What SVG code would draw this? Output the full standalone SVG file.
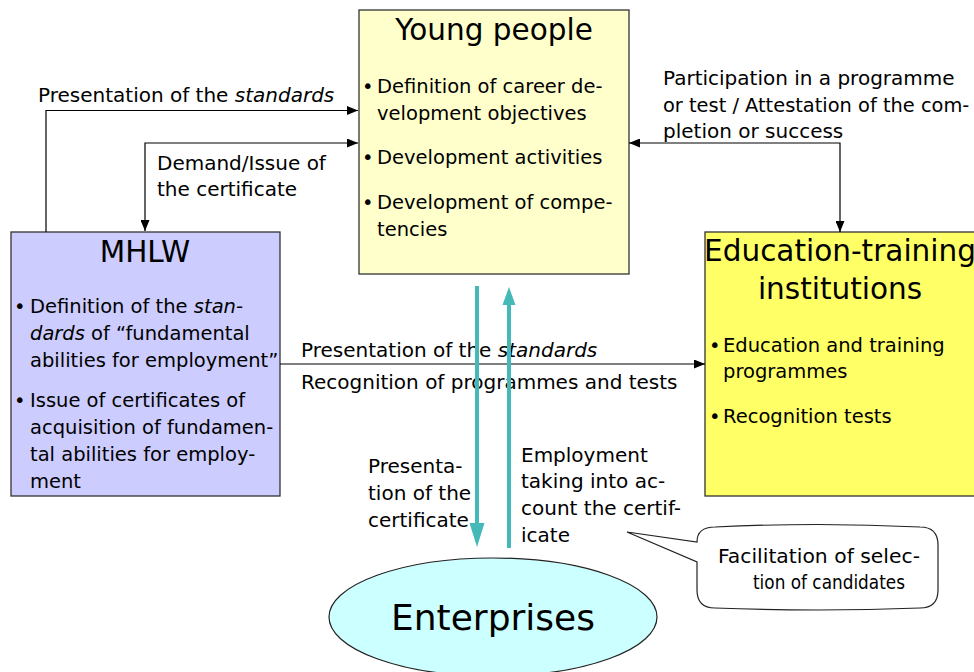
<svg xmlns="http://www.w3.org/2000/svg" width="974" height="672" viewBox="0 0 974 672">
<style>
text{font-family:"DejaVu Sans","Liberation Sans",sans-serif;fill:#000}
.t{font-size:29.5px;text-anchor:middle}
.b{font-size:19.5px}
.l{font-size:20px}
.box{stroke:#333;stroke-width:1.3}
.k{fill:none;stroke:#000;stroke-width:1.2}
.tl{fill:none;stroke:#45b8b8;stroke-width:4}
</style>
<defs>
<marker id="ah" viewBox="0 0 11 9" markerWidth="11" markerHeight="9" refX="11" refY="4.5" orient="auto-start-reverse" markerUnits="userSpaceOnUse">
<path d="M0,0 L11,4.5 L0,9 Z" fill="#000"/>
</marker>
</defs>
<g id="young">
<rect class="box" x="359" y="10" width="270" height="264" fill="#ffffcc"/>
<text class="t" x="494" y="40">Young people</text>
<text class="b" x="362" y="93">•</text><text class="b" x="377" y="93">Definition of career de-</text>
<text class="b" x="377" y="120">velopment objectives</text>
<text class="b" x="362" y="164">•</text><text class="b" x="377" y="164">Development activities</text>
<text class="b" x="362" y="209">•</text><text class="b" x="377" y="209">Development of compe-</text>
<text class="b" x="377" y="236">tencies</text>
</g>
<g id="mhlw">
<rect class="box" x="11" y="232" width="269" height="264" fill="#ccccff"/>
<text class="t" x="145" y="262">MHLW</text>
<text class="b" x="14" y="313">•</text><text class="b" x="30" y="313">Definition of the <tspan font-style="italic">stan-</tspan></text>
<text class="b" x="30" y="340"><tspan font-style="italic">dards</tspan> of “fundamental</text>
<text class="b" x="30" y="367">abilities for employment”</text>
<text class="b" x="14" y="407">•</text><text class="b" x="30" y="407">Issue of certificates of</text>
<text class="b" x="30" y="434">acquisition of fundamen-</text>
<text class="b" x="30" y="461">tal abilities for employ-</text>
<text class="b" x="30" y="488">ment</text>
</g>
<g id="education">
<rect class="box" x="705" y="232" width="275" height="264" fill="#ffff66"/>
<text class="t" x="840" y="261">Education-training</text>
<text class="t" x="840" y="299">institutions</text>
<text class="b" x="709" y="352">•</text><text class="b" x="723" y="352">Education and training</text>
<text class="b" x="723" y="378">programmes</text>
<text class="b" x="709" y="423">•</text><text class="b" x="723" y="423">Recognition tests</text>
</g>
<g id="enterprises">
<ellipse cx="493" cy="617" rx="164" ry="59" fill="#ccffff" stroke="#222" stroke-width="1.2"/>
<text x="493" y="630" font-size="36" text-anchor="middle">Enterprises</text>
</g>
<g id="callout">
<path d="M715,527 Q817,522 920,527 Q938,527 938,545 V590 Q938,608 920,608 Q817,612 715,608 Q697,608 697,590 V562 L627,532 L697,542 Q697,527 715,527 Z" fill="#fff" stroke="#222" stroke-width="1.2"/>
<text class="l" x="718" y="563" textLength="202" lengthAdjust="spacingAndGlyphs">Facilitation of selec-</text>
<text x="753" y="589" font-size="19" textLength="152" lengthAdjust="spacingAndGlyphs">tion of candidates</text>
</g>
<g id="labels">
<text class="l" x="38" y="102">Presentation of the <tspan font-style="italic">standards</tspan></text>
<text class="l" x="157" y="170">Demand/Issue of</text>
<text class="l" x="157" y="196">the certificate</text>
<text class="l" x="663" y="85">Participation in a programme</text>
<text x="663" y="112" font-size="19.4">or test / Attestation of the com-</text>
<text class="l" x="663" y="138">pletion or success</text>
<text class="l" x="301" y="357">Presentation of the <tspan font-style="italic">standards</tspan></text>
<text class="l" x="301" y="389">Recognition of programmes and tests</text>
<text class="l" x="368" y="473">Presenta-</text>
<text class="l" x="368" y="500">tion of the</text>
<text class="l" x="368" y="527">certificate</text>
<text class="l" x="521" y="462">Employment</text>
<text class="l" x="521" y="488">taking into ac-</text>
<text class="l" x="521" y="515">count the certif-</text>
<text class="l" x="521" y="542">icate</text>
</g>
<g id="connectors">
<path class="k" d="M46,232 V110.5 H358" marker-end="url(#ah)"/>
<path class="k" d="M145,231 V143 H358" marker-start="url(#ah)" marker-end="url(#ah)"/>
<path class="k" d="M629,143 H840 V232" marker-start="url(#ah)" marker-end="url(#ah)"/>
<path class="k" d="M280,364 H705" marker-end="url(#ah)"/>
<line class="tl" x1="477" y1="286" x2="477" y2="526"/>
<polygon points="469.5,523 484.5,523 477,547" fill="#45b8b8"/>
<line class="tl" x1="509" y1="548" x2="509" y2="302"/>
<polygon points="502.5,305 515.5,305 509,287" fill="#45b8b8"/>
</g>
</svg>
